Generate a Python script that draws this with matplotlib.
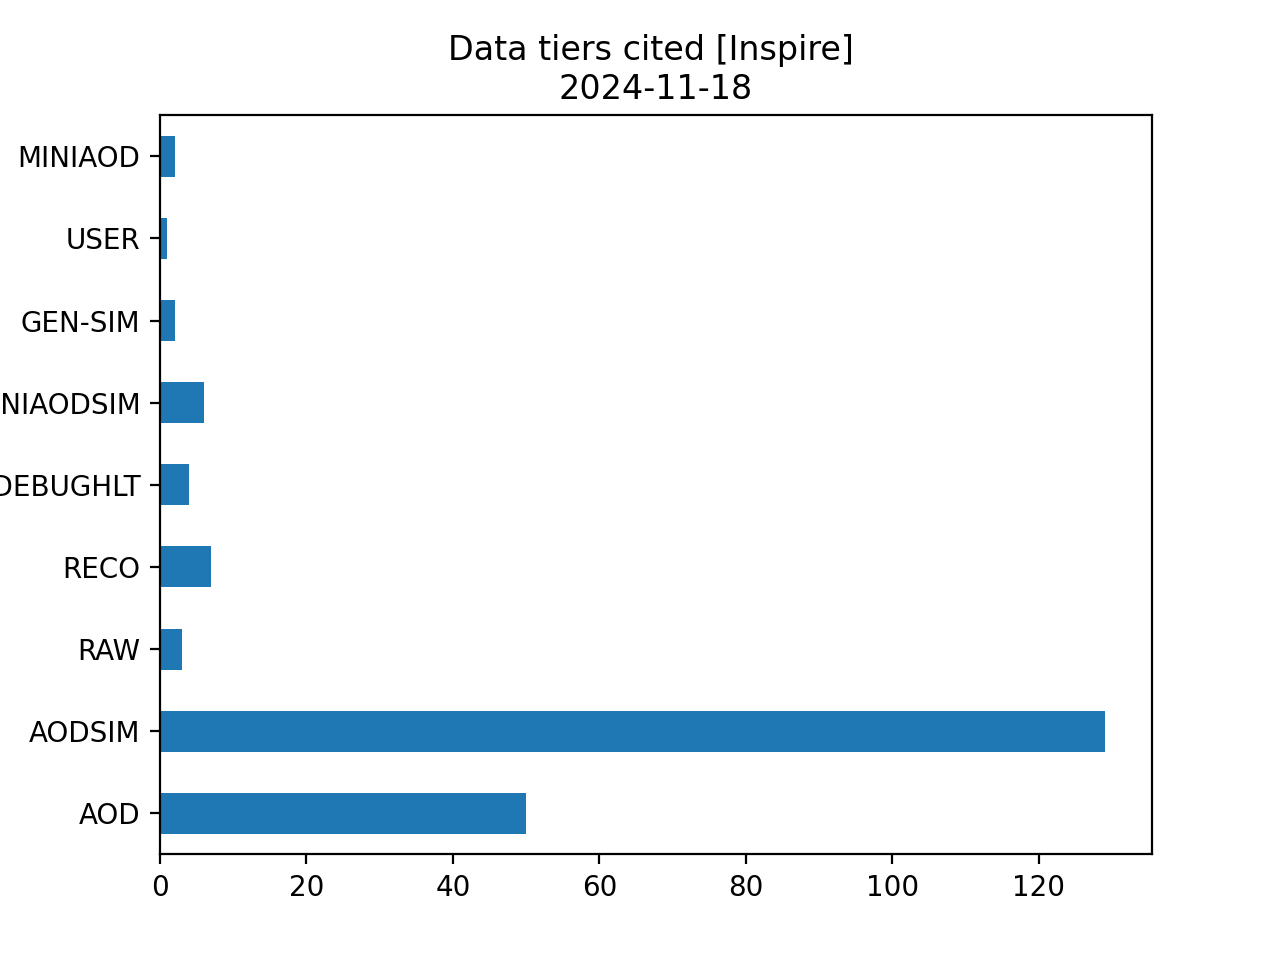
import matplotlib
matplotlib.use("Agg")
import matplotlib.pyplot as plt

tiers = ["AOD", "AODSIM", "RAW", "RECO", "FEVTDEBUGHLT", "MINIAODSIM", "GEN-SIM", "USER", "MINIAOD"]
counts = [50, 129, 3, 7, 4, 6, 2, 1, 2]

fig, ax = plt.subplots(figsize=(6.4, 4.8), dpi=200)
ax.barh(range(len(tiers)), counts, height=0.5, color="#1f77b4")
ax.set_yticks(range(len(tiers)))
ax.set_yticklabels(tiers)
ax.set_ylim(-0.5, len(tiers) - 0.5)
ax.set_title("Data tiers cited [Inspire] \n2024-11-18")
fig.savefig("out.png", dpi=200)
